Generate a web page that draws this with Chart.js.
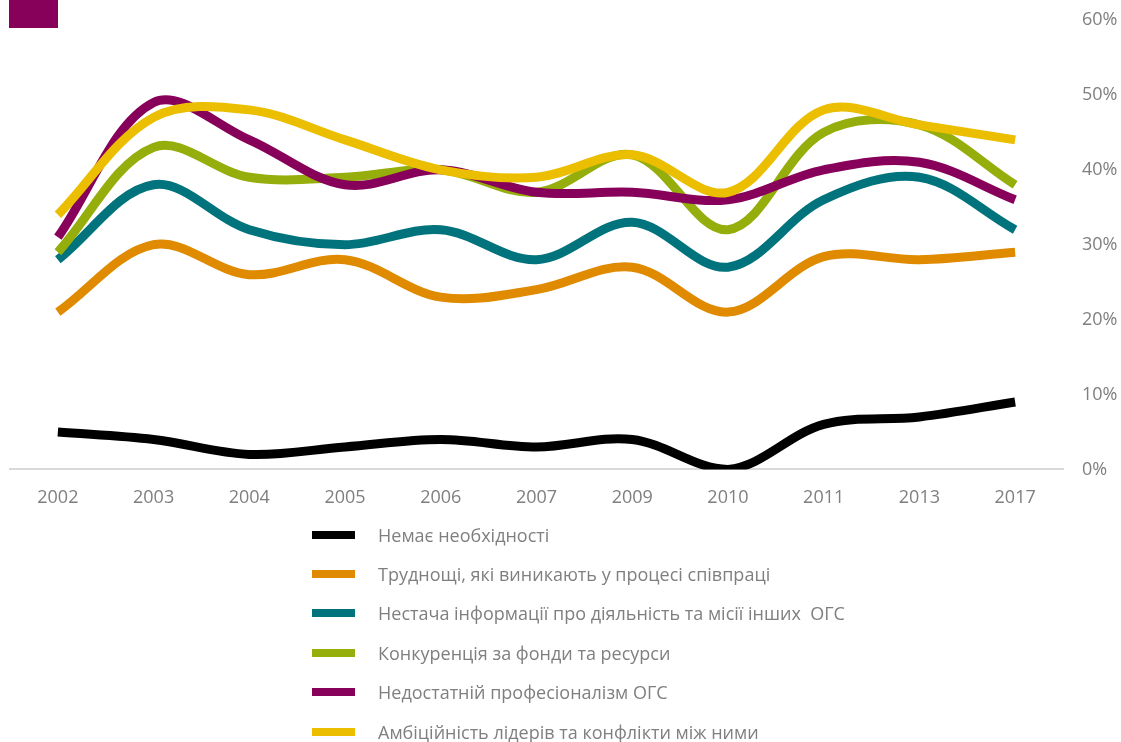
<!DOCTYPE html>
<html>
<head>
<meta charset="utf-8">
<script src="https://cdn.jsdelivr.net/npm/chart.js@4"></script>
<style>
  html, body { margin: 0; padding: 0; background: #fff; }
  #wrap { position: relative; width: 1121px; height: 742px; overflow: hidden; }
  #badge { position: absolute; left: 9px; top: 0; width: 49px; height: 28px; background: #87005A; }
  #chartBox { position: absolute; left: 0; top: 0; width: 1121px; height: 527px; }
  #legend { position: absolute; left: 312px; top: 515px; margin: 0; padding: 0; list-style: none;
            font-family: "Open Sans", sans-serif; font-size: 18px; color: #7f7f7f; }
  #legend li { height: 39.4px; display: flex; align-items: center; white-space: pre; }
  #legend .sw { display: inline-block; width: 43px; height: 8px; margin-right: 23px; }
</style>
</head>
<body>
<div id="wrap">
  <div id="chartBox"><canvas id="c"></canvas></div>
  <div id="badge"></div>
  <ul id="legend"></ul>
</div>
<script>
// Survey years
const years = ['2002', '2003', '2004', '2005', '2006', '2007', '2009', '2010', '2011', '2013', '2017'];

// Share of respondents naming each obstacle, %
const noNeed        = [5, 4, 2, 3, 4, 3, 4, 0, 6, 7, 9];
const difficulties  = [21, 30, 26, 28, 23, 24, 27, 21, 28.4, 28, 29];
const lackOfInfo    = [28, 38, 32, 30, 32, 28, 33, 27, 36, 39, 32];
const competition   = [29, 43, 39, 39, 40, 37, 42, 32, 45, 46, 38];
const lowProfession = [31, 49, 44, 38, 40, 37, 37, 36, 40, 41, 36];
const ambitions     = [34, 47, 48, 44, 40, 39, 42, 37, 48, 46, 44];

const seriesNames = [
  'Немає необхідності',
  'Труднощі, які виникають у процесі співпраці',
  'Нестача інформації про діяльність та місії інших  ОГС',
  'Конкуренція за фонди та ресурси',
  'Недостатній професіоналізм ОГС',
  'Амбіційність лідерів та конфлікти між ними'
];
const seriesColors = ['#000000', '#E08A00', '#00737C', '#95AE0C', '#87005A', '#EBBE00'];
const seriesData = [noNeed, difficulties, lackOfInfo, competition, lowProfession, ambitions];

const yTicks = [0, 10, 20, 30, 40, 50, 60];

const datasets = seriesData.map((d, i) => ({
  label: seriesNames[i],
  data: d,
  borderColor: seriesColors[i],
  backgroundColor: seriesColors[i],
  borderWidth: 9,
  pointRadius: 0,
  tension: 0.35,
  fill: false,
  order: seriesData.length - 1 - i
}));

const chart = new Chart(document.getElementById('c'), {
  type: 'line',
  data: { labels: years, datasets },
  options: {
    responsive: true,
    maintainAspectRatio: false,
    animation: false,
    layout: { padding: { left: 10, right: 0, top: 20, bottom: 0 } },
    plugins: { legend: { display: false }, tooltip: { enabled: false } },
    scales: {
      x: {
        offset: true,
        grid: { display: false, drawTicks: false },
        border: { display: true, color: '#d9d9d9', width: 2 },
        ticks: { color: '#7f7f7f', font: { family: 'Open Sans', size: 18 }, padding: 18 }
      },
      y: {
        position: 'right',
        min: 0, max: 60,
        afterBuildTicks: (axis) => { axis.ticks = yTicks.map(v => ({ value: v })); },
        afterFit: (axis) => { axis.width = 58; axis.paddingTop = 0; axis.paddingBottom = 0; },
        grid: { display: false, drawTicks: false },
        border: { display: false },
        ticks: {
          color: '#7f7f7f', font: { family: 'Open Sans', size: 18 }, padding: 19,
          callback: (v) => v + '%'
        }
      }
    }
  }
});

// Legend list built from the chart's own datasets
const ul = document.getElementById('legend');
chart.data.datasets.forEach(ds => {
  const li = document.createElement('li');
  const sw = document.createElement('span');
  sw.className = 'sw';
  sw.style.background = ds.borderColor;
  li.appendChild(sw);
  li.appendChild(document.createTextNode(ds.label));
  ul.appendChild(li);
});
</script>
</body>
</html>
